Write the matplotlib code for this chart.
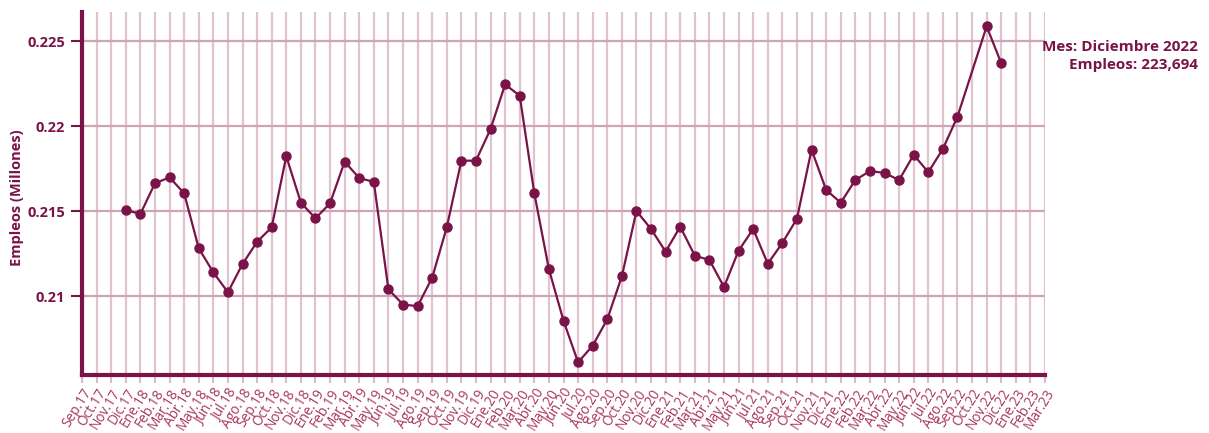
import matplotlib
matplotlib.use("Agg")
import matplotlib.pyplot as plt

# meses del eje x (Sep.17 a Mar.23)
meses = ["Sep.17", "Oct.17", "Nov.17", "Dic.17",
         "Ene.18", "Feb.18", "Mar.18", "Abr.18", "May.18", "Jun.18", "Jul.18", "Ago.18", "Sep.18", "Oct.18", "Nov.18", "Dic.18",
         "Ene.19", "Feb.19", "Mar.19", "Abr.19", "May.19", "Jun.19", "Jul.19", "Ago.19", "Sep.19", "Oct.19", "Nov.19", "Dic.19",
         "Ene.20", "Feb.20", "Mar.20", "Abr.20", "May.20", "Jun.20", "Jul.20", "Ago.20", "Sep.20", "Oct.20", "Nov.20", "Dic.20",
         "Ene.21", "Feb.21", "Mar.21", "Abr.21", "May.21", "Jun.21", "Jul.21", "Ago.21", "Sep.21", "Oct.21", "Nov.21", "Dic.21",
         "Ene.22", "Feb.22", "Mar.22", "Abr.22", "May.22", "Jun.22", "Jul.22", "Ago.22", "Sep.22", "Oct.22", "Nov.22", "Dic.22",
         "Ene.23", "Feb.23", "Mar.23"]

# empleos (millones); None = sin dato
empleos = [None, None, None, 0.21506,
           0.21482, 0.21663, 0.21698, 0.21604, 0.21281, 0.21139, 0.21022, 0.21188, 0.21319, 0.21404, 0.21822, 0.21549,
           0.21457, 0.21545, 0.21790, 0.21694, 0.21671, 0.21039, 0.20950, 0.20940, 0.21108, 0.21404, 0.21796, 0.21796,
           0.21982, 0.22245, 0.22178, 0.21604, 0.21157, 0.20855, 0.20610, 0.20708, 0.20863, 0.21116, 0.21500, 0.21394,
           0.21261, 0.21408, 0.21237, 0.21212, 0.21053, 0.21267, 0.21394, 0.21190, 0.21312, 0.21455, 0.21861, 0.21624,
           0.21549, 0.21682, 0.21735, 0.21724, 0.21682, 0.21831, 0.21728, 0.21865, 0.22055, None, 0.22586, 0.223694,
           None, None, None]

yticks = [0.21, 0.215, 0.22, 0.225]
ytick_labels = ["0.21", "0.215", "0.22", "0.225"]

guinda = "#7a1347"
rosa = "#a8355f"

plt.rcParams["font.family"] = ["Open Sans", "DejaVu Sans"]

fig = plt.figure(figsize=(12.09, 4.33), dpi=100)
ax = fig.add_axes([82 / 1209, 58 / 433, 963 / 1209, 363 / 433])

xs = [i for i, v in enumerate(empleos) if v is not None]
ys = [v for v in empleos if v is not None]
ax.plot(xs, ys, color=guinda, lw=1.6, marker="o", ms=6.5, zorder=3)

ax.set_xlim(0, len(meses) - 1)
ax.set_ylim(0.205353, 0.226706)

ax.set_xticks(range(len(meses)))
ax.set_xticklabels(meses, rotation=58, ha="right", va="top", rotation_mode="anchor",
                   fontsize=9.8, color=rosa)
ax.set_yticks(yticks)
ax.set_yticklabels(ytick_labels, fontsize=10.5, fontweight="bold", color=guinda)

ax.tick_params(axis="x", length=6, width=1.5, color="#dcb9c7", pad=2)
ax.tick_params(axis="y", length=8, width=1.5, color=guinda, pad=4)

for xi in range(1, len(meses)):
    ax.axvline(xi, color="#e0c3ce", lw=1.6, zorder=1)
for yv in yticks:
    ax.axhline(yv, color="#cfa4b4", lw=1.6, zorder=1)

for side in ["top", "right"]:
    ax.spines[side].set_visible(False)
ax.spines["left"].set_color(guinda)
ax.spines["left"].set_linewidth(3)
ax.spines["bottom"].set_color(guinda)
ax.spines["bottom"].set_linewidth(3)

fig.text(17 / 1209, 1 - 198 / 433, "Empleos (Millones)", rotation=90,
         ha="center", va="center", fontsize=10.5, fontweight="bold", color=guinda)

fig.text(1198 / 1209, 1 - 56 / 433, "Mes: Diciembre 2022\nEmpleos: 223,694",
         ha="right", va="center", fontsize=11, fontweight="bold", color=guinda,
         linespacing=1.4)

fig.savefig("out.png", dpi=100)
